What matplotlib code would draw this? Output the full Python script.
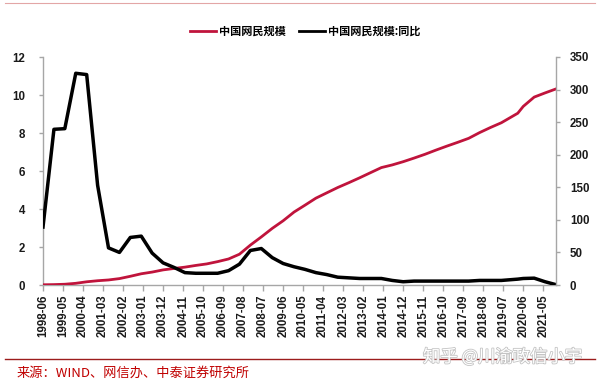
import pandas as pd
import matplotlib
matplotlib.use("Agg")
import matplotlib.pyplot as plt
import matplotlib.dates as mdates
from matplotlib.lines import Line2D
import matplotlib.patheffects as pe

plt.rcParams['font.family'] = ['Liberation Sans', 'Noto Sans CJK SC', 'DejaVu Sans']

# half-yearly CNNIC reports (plus the 2020-03 survey)
dates = ["1998-06", "1998-12", "1999-06", "1999-12", "2000-06", "2000-12",
         "2001-06", "2001-12", "2002-06", "2002-12", "2003-06", "2003-12",
         "2004-06", "2004-12", "2005-06", "2005-12", "2006-06", "2006-12",
         "2007-06", "2007-12", "2008-06", "2008-12", "2009-06", "2009-12",
         "2010-06", "2010-12", "2011-06", "2011-12", "2012-06", "2012-12",
         "2013-06", "2013-12", "2014-06", "2014-12", "2015-06", "2015-12",
         "2016-06", "2016-12", "2017-06", "2017-12", "2018-06", "2018-12",
         "2019-06", "2020-03", "2020-06", "2020-12", "2021-06", "2021-12"]

# 中国网民规模 (亿人), left axis
users = [0.0117, 0.021, 0.04, 0.089, 0.169, 0.225,
         0.265, 0.337, 0.458, 0.591, 0.68, 0.795,
         0.87, 0.94, 1.03, 1.11, 1.23, 1.37,
         1.62, 2.10, 2.53, 2.98, 3.38, 3.84,
         4.20, 4.57, 4.85, 5.13, 5.38, 5.64,
         5.91, 6.18, 6.32, 6.49, 6.68, 6.88,
         7.10, 7.31, 7.51, 7.72, 8.02, 8.29,
         8.54, 9.04, 9.40, 9.89, 10.11, 10.32]

# 中国网民规模:同比 (%), right axis
yoy = [89, 239, 240, 325, 323, 153,
       57, 50, 73, 75, 49, 34,
       27, 19, 18, 18, 18, 22,
       32, 53, 56, 42, 33, 28,
       24, 19, 16, 12, 11, 10,
       10, 10, 7, 5, 6, 6,
       6, 6, 6, 6, 7, 7,
       7, 9, 10, 10.5, 5, 0.5]

left_ticks = [0, 2, 4, 6, 8, 10, 12]
right_ticks = [0, 50, 100, 150, 200, 250, 300, 350]

RED = "#c0143c"
AXIS = "#a6a6a6"

x = pd.to_datetime(dates)
xticks = pd.date_range("1998-06-01", "2021-05-01", freq="11MS")

fig = plt.figure(figsize=(6.01, 3.82), dpi=100)
ax = fig.add_axes([43 / 601, 97 / 382, 513 / 601, 228 / 382])
ax2 = ax.twinx()

ax.plot(x, users, color=RED, lw=2.0, solid_joinstyle="round", zorder=3)
ax2.plot(x, yoy, color="black", lw=2.5, solid_joinstyle="round", zorder=2)

ax.set_xlim(x[0], x[-1])
ax.set_ylim(0, 12)
ax2.set_ylim(0, 350)
ax.set_yticks(left_ticks)
ax2.set_yticks(right_ticks)
ax.set_xticks(xticks)
ax.xaxis.set_major_formatter(mdates.DateFormatter("%Y-%m"))

for a in (ax, ax2):
    a.spines["top"].set_visible(False)
    for s in ("left", "right", "bottom"):
        a.spines[s].set_color(AXIS)
        a.spines[s].set_linewidth(1.0)
    a.tick_params(colors=AXIS, labelcolor="#1a1a1a", labelsize=8.3, length=3, width=1)
    for lab in a.get_yticklabels():
        lab.set_fontweight("bold")
ax.spines["right"].set_visible(False)
ax2.spines["left"].set_visible(False)
ax2.spines["bottom"].set_visible(False)
ax.tick_params(axis="y", pad=10)
ax2.tick_params(axis="y", pad=7)
ax.tick_params(axis="x", length=4, pad=3)
for lab in ax.get_xticklabels():
    lab.set_rotation(90)
    lab.set_fontweight("bold")

# legend
handles = [Line2D([], [], color=RED, lw=2),
           Line2D([], [], color="black", lw=2)]
leg = fig.legend(handles, ["中国网民规模", "中国网民规模:同比"], loc="center",
                 bbox_to_anchor=(305 / 601, 1 - 31 / 382), ncol=2, frameon=False,
                 handlelength=2.4, handletextpad=0.2, columnspacing=1.2,
                 prop={"family": ["Noto Sans CJK SC"], "weight": "bold", "size": 8})

# report decorations
fig.add_artist(Line2D([5 / 601, 595 / 601], [1 - 3 / 382, 1 - 3 / 382],
                      color="#e3a6a6", lw=0.8))
fig.add_artist(Line2D([5 / 601, 595 / 601], [1 - 359 / 382, 1 - 359 / 382],
                      color="#9c1c1c", lw=1.0))
fig.text(17 / 601, 1 - 373 / 382, "来源：WIND、网信办、中泰证券研究所",
         color="#c00000", fontsize=9.5, va="center",
         family=["Noto Sans CJK SC"])
wm = fig.text(423 / 601, 1 - 357 / 382, "知乎 @川渝政信小宇", color="white",
              fontsize=12.5, va="center", family=["Noto Sans CJK SC"])
wm.set_path_effects([pe.withStroke(linewidth=1.2, foreground="#c4c4c4")])

fig.savefig("out.png", dpi=100)
